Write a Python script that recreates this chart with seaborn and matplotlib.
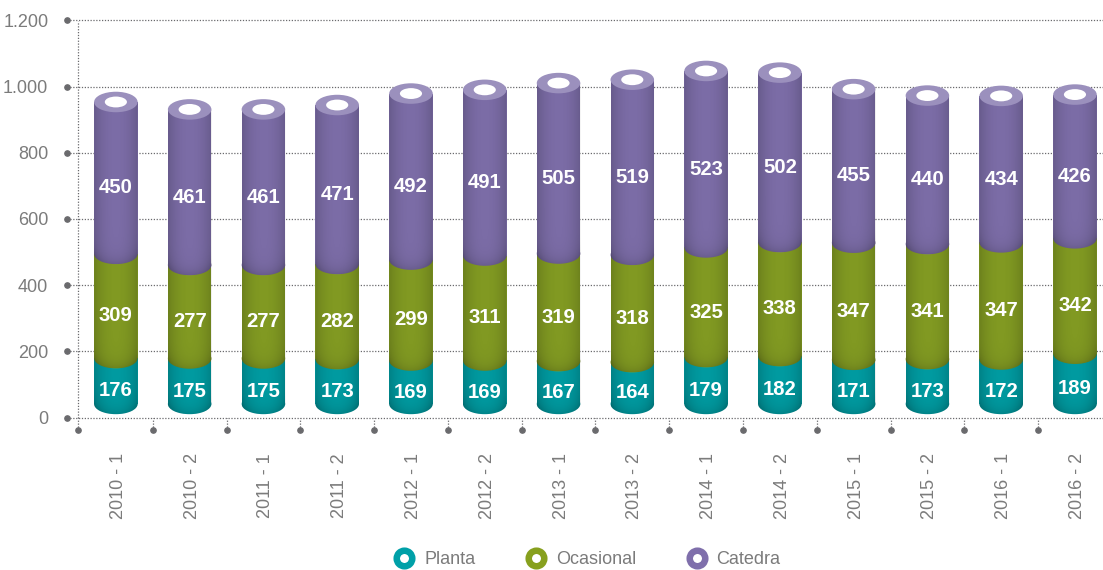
import numpy as np
import pandas as pd
import matplotlib
matplotlib.use("Agg")
import matplotlib.pyplot as plt
import seaborn as sns
from matplotlib.lines import Line2D
from matplotlib.patches import Ellipse, PathPatch
from matplotlib.path import Path
from matplotlib.transforms import ScaledTranslation

periods = ["2010 - 1", "2010 - 2", "2011 - 1", "2011 - 2", "2012 - 1", "2012 - 2", "2013 - 1",
           "2013 - 2", "2014 - 1", "2014 - 2", "2015 - 1", "2015 - 2", "2016 - 1", "2016 - 2"]
planta = [176, 175, 175, 173, 169, 169, 167, 164, 179, 182, 171, 173, 172, 189]
ocasional = [309, 277, 277, 282, 299, 311, 319, 318, 325, 338, 347, 341, 347, 342]
catedra = [450, 461, 461, 471, 492, 491, 505, 519, 523, 502, 455, 440, 434, 426]
y_ticks = [0, 200, 400, 600, 800, 1000, 1200]
y_tick_labels = ["0", "200", "400", "600", "800", "1.000", "1.200"]
series_names = ["Planta", "Ocasional", "Catedra"]

sns.set_style("white")
plt.rcParams["font.family"] = ["Liberation Sans", "DejaVu Sans"]

COLORS = ["#009aa0", "#81992280"[:7], "#7b6ca6"]
LEGEND_COLORS = ["#00a0a8", "#87a01e", "#7f6fab"]
TOP_COLOR = "#9b90bd"
TEXT = "#7b7b7b"
DOT = "#6a6a6d"

W, H = 1103, 570
fig = plt.figure(figsize=(W / 100, H / 100), dpi=100)
ax = fig.add_axes([77.5 / W, 1 - 417.5 / H, (W - 77.5) / W, (417.5 - 20.5) / H])

vals = np.array([planta, ocasional, catedra], dtype=float)
STACK_SCALE = 1.02      # the drawn cylinders run slightly taller than the axis scale
BASE = 41               # cylinder floor sits above zero, its lower rim reaches the axis
ARC = 31                # half height of the elliptical rims, in axis units
BAR_W = 0.59
XLIM = (-0.52, 13.38)
cum = np.cumsum(vals, axis=0) * STACK_SCALE

for gi in range(3):
    df = pd.DataFrame({"period": periods, "top": cum[gi]})
    sns.barplot(data=df, x="period", y="top", color=COLORS[gi], saturation=1, width=BAR_W,
                errorbar=None, ax=ax, zorder=2 + gi, linewidth=0)
    bars = ax.containers[-1]
    for i, p in enumerate(bars):
        low = BASE if gi == 0 else cum[gi - 1][i]
        high = cum[gi][i]
        p.set_y(low)
        p.set_height(high - low)
        ax.add_patch(Ellipse((i, low), BAR_W, 2 * ARC, fc=COLORS[gi], ec="none", zorder=2 + gi))
        # rounded shading: edges and lower rim of the cylinder are darker
        t = np.linspace(0, np.pi, 40)
        xs = i + BAR_W / 2 * np.cos(t)
        ys = low - ARC * np.sin(t)
        verts = np.column_stack([
            np.r_[i - BAR_W / 2, i + BAR_W / 2, xs, i - BAR_W / 2],
            np.r_[high, high, ys, high]])
        clip = PathPatch(Path(verts), transform=ax.transData, fc="none", ec="none")
        ax.add_patch(clip)
        gx = np.linspace(-1, 1, 60)
        gy = np.linspace(low - ARC, high, 160)
        X, Y = np.meshgrid(gx, gy)
        rim = low - ARC * np.sqrt(np.clip(1 - X ** 2, 0, 1))
        alpha = 0.16 * np.abs(X) ** 2.2 + 0.14 * np.exp(-(Y - rim) / 22.0)
        rgba = np.zeros(X.shape + (4,))
        rgba[..., 3] = np.clip(alpha, 0, 1)
        im = ax.imshow(rgba, extent=(i - BAR_W / 2, i + BAR_W / 2, low - ARC, high), origin="lower",
                       aspect="auto", zorder=2 + gi + 0.5, interpolation="bilinear")
        im.set_clip_path(clip)

# top rims
for i, top in enumerate(cum[2]):
    ax.add_patch(Ellipse((i, top), BAR_W, 2 * ARC, fc=TOP_COLOR, ec="none", zorder=6))
    ax.add_patch(Ellipse((i, top), 0.30, 2 * ARC * 0.53, fc="white", ec="none", zorder=7))

# value labels
LABEL_SHIFT = 30
lows = np.vstack([np.full(14, BASE), cum[:2]])
for gi in range(3):
    for i in range(14):
        mid = (lows[gi][i] + cum[gi][i]) / 2 - LABEL_SHIFT
        ax.text(i, mid, f"{int(vals[gi][i])}", ha="center", va="center", color="white",
                fontsize=14.6, fontweight="bold", zorder=8)

ax.set_xlim(*XLIM)
ax.set_ylim(0, 1200)
ax.set_xlabel("")
ax.set_ylabel("")
sns.despine(ax=ax, left=True, bottom=True, right=True, top=True)

# axes furniture
dotted = dict(color=DOT, lw=0.9, ls=(0, (1, 1.3)), clip_on=False, zorder=1)
tr_y = ax.get_yaxis_transform()
x_dot = (67 - 77.5) / (W - 77.5)
for v in y_ticks:
    ax.plot([x_dot, 1], [v, v], transform=tr_y, **dotted)
    ax.plot([x_dot], [v], transform=tr_y, marker="o", ms=3.8, color=DOT, clip_on=False, zorder=1)
ax.plot([0, 0], [0, 1], transform=ax.transAxes, **dotted)
tr_x = ax.get_xaxis_transform()
y_dot = -(430 - 417.5) / (417.5 - 20.5)
for i in range(14):
    xb = XLIM[0] if i == 0 else i - 0.5
    ax.plot([xb, xb], [y_dot, 0], transform=tr_x, **dotted)
    ax.plot([xb], [y_dot], transform=tr_x, marker="o", ms=3.8, color=DOT, clip_on=False, zorder=1)

ax.set_yticks(y_ticks)
ax.set_yticklabels(y_tick_labels)
ax.set_xticks(range(14))
ax.set_xticklabels(periods, rotation=90, va="top", ha="center")
ax.tick_params(axis="y", length=0, pad=21, labelsize=13, labelcolor=TEXT)
ax.tick_params(axis="x", length=0, pad=25.5, labelsize=13, labelcolor=TEXT)
nudge = ScaledTranslation(2.5 / 100, 0, fig.dpi_scale_trans)
for lbl in ax.get_xticklabels():
    lbl.set_transform(lbl.get_transform() + nudge)

handles = [Line2D([], [], ls="none", marker="o", ms=11.2, mfc="white", mec=c, mew=4.7)
           for c in LEGEND_COLORS]
fig.legend(handles, series_names, loc="center", bbox_to_anchor=(587 / W, 10.5 / H), ncol=3,
           frameon=False, fontsize=13, labelcolor=TEXT, handletextpad=0.5, columnspacing=2.75,
           handlelength=1.2, borderpad=0, borderaxespad=0)

fig.savefig("out.png", dpi=100, facecolor="white")
